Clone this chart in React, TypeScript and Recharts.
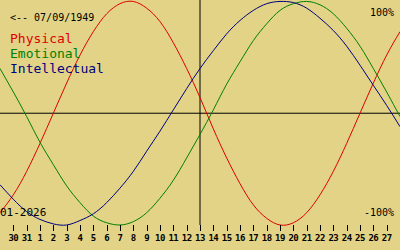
import React from "react";
import { LineChart, XAxis, YAxis, Line, ReferenceLine } from "recharts";

// days shown along the bottom, from Dec 29 to Jan 28
const days = [
  "29", "30", "31", "1", "2", "3", "4", "5", "6", "7", "8", "9", "10", "11", "12", "13",
  "14", "15", "16", "17", "18", "19", "20", "21", "22", "23", "24", "25", "26", "27", "28",
];

const physical = [
  -89, -73, -52, -27, 0, 27, 52, 73, 89, 98, 100, 94, 82, 63, 40, 14,
  -14, -40, -63, -82, -94, -100, -98, -89, -73, -52, -27, 0, 27, 52, 73,
];
const emotional = [
  40, 19, -3, -26, -46, -65, -80, -92, -98, -100, -97, -89, -76, -60, -40, -19,
  3, 26, 46, 65, 80, 92, 98, 100, 97, 89, 76, 60, 40, 19, -3,
];
const intellectual = [
  -64, -77, -88, -95, -99, -100, -96, -90, -80, -67, -52, -34, -16, 3, 22, 40,
  56, 71, 83, 92, 98, 100, 99, 94, 85, 74, 60, 43, 25, 7, -12,
];

const today = 15; // index of day 13
const tickIdx = days.map((_, i) => i).slice(1, days.length - 1);

const data = days.map((d, i) => ({
  i,
  day: d,
  physical: physical[i],
  emotional: emotional[i],
  intellectual: intellectual[i],
}));

const RED = "#e00000";
const GREEN = "#008000";
const BLUE = "#000080";
const BG = "#e2d386";
const MONO = "'DejaVu Sans Mono', monospace";

// tick mark + label, y is the bottom edge of the plot
function DayTick(props: any) {
  const { x, y, payload } = props;
  return (
    <g>
      <rect x={Math.round(x)} y={y} width={1} height={6} fill="#000" />
      <text
        x={x}
        y={y + 16}
        textAnchor="middle"
        fontFamily={MONO}
        fontSize={9}
        fontWeight="bold"
        letterSpacing={-0.5}
        fill="#000"
      >
        {days[payload.value]}
      </text>
    </g>
  );
}

export default function App() {
  return (
    <div style={{ position: "absolute", left: 0, top: 0, width: 400, height: 250, background: BG }}>
      <LineChart width={400} height={250} data={data} margin={{ top: 0, right: 0, bottom: 0, left: 0 }}>
        <XAxis
          dataKey="i"
          type="number"
          domain={[0, 30]}
          ticks={tickIdx}
          interval={0}
          height={25}
          axisLine={false}
          tickLine={false}
          tickSize={0}
          tickMargin={0}
          tick={<DayTick />}
        />
        <YAxis hide domain={[-100, 101.3]} />
        <ReferenceLine y={0} stroke="#000" strokeWidth={1} />
        <ReferenceLine x={today} stroke="#000" strokeWidth={1} />
        <Line type="natural" dataKey="physical" stroke={RED} strokeWidth={1} dot={false} activeDot={false} isAnimationActive={false} />
        <Line type="natural" dataKey="emotional" stroke={GREEN} strokeWidth={1} dot={false} activeDot={false} isAnimationActive={false} />
        <Line type="natural" dataKey="intellectual" stroke={BLUE} strokeWidth={1} dot={false} activeDot={false} isAnimationActive={false} />
      </LineChart>
      <svg width={400} height={250} style={{ position: "absolute", left: 0, top: 0, pointerEvents: "none" }}>
        <text x={10} y={21} fontFamily={MONO} fontSize={10} fill="#000">{"<-- 07/09/1949"}</text>
        <text x={10} y={43} fontFamily={MONO} fontSize={13} fill={RED}>Physical</text>
        <text x={10} y={58} fontFamily={MONO} fontSize={13} fill={GREEN}>Emotional</text>
        <text x={10} y={73} fontFamily={MONO} fontSize={13} fill={BLUE}>Intellectual</text>
        <text x={394} y={16} textAnchor="end" fontFamily={MONO} fontSize={10} fill="#000">100%</text>
        <text x={394} y={216} textAnchor="end" fontFamily={MONO} fontSize={10} fill="#000">-100%</text>
        <text x={0} y={216} fontFamily={MONO} fontSize={11} fill="#000">01-2026</text>
      </svg>
    </div>
  );
}
